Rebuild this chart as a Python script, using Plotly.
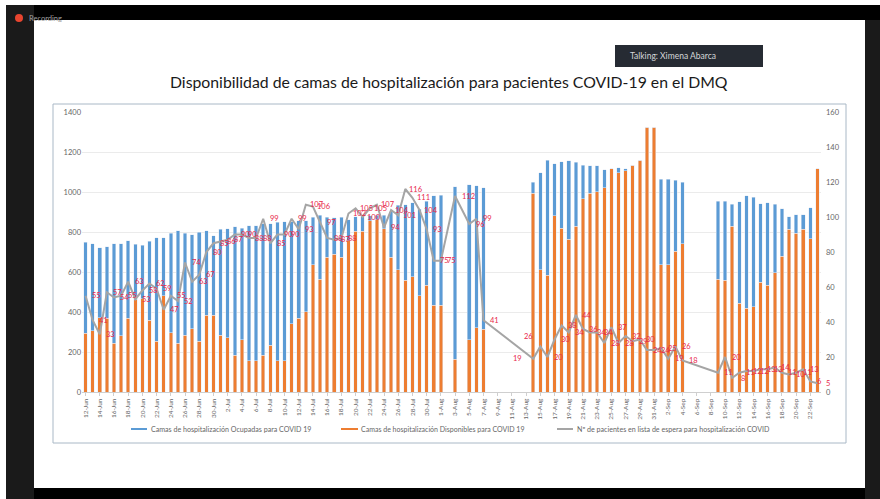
import plotly.graph_objects as go

W, H = 880, 499
L, R, T, B = 82, 821, 112, 392

dates = (
    [f"{d}-Jun" for d in range(12, 31)]
    + [f"{d}-Jul" for d in range(1, 32)]
    + [f"{d}-Aug" for d in range(1, 32)]
    + [f"{d}-Sep" for d in range(1, 24)]
)

totales = [
    748, 741, 721, 726, 741, 741, 756, 738, 734, 754, 771, 771, 793, 806, 793, 786, 799, 806, 781,
    813, 816, 826, 819, 832, 832, 842, 842, 849, 852, 852, 857, 857, 874, 884, 874, 871, 874, 861,
    877, 877, 881, 884, 884, 901, 934, 937, 947, 914, 954, 981, 984,
    None, 1026, None, 1036, 1032, 1022, None, None, None, None, None, None,
    1049, 1096, 1159, 1142, 1152, 1156, 1149, 1134, 1131, 1131, 1111, 1117, 1121, 1116, 1134, 1159,
    1324, 1324,
    1064, 1064, 1059, 1049, None, None, None, None,
    954, 954, 939, 951, 981, 974, 942, 946, 939, 916, 877, 887, 887, 922, 1116,
]
disponibles = [
    295, 306, 372, 370, 245, 281, 368, 461, 466, 358, 255, 481, 296, 245, 285, 316, 255, 383, 385,
    285, 271, 183, 261, 156, 156, 183, 235, 156, 156, 341, 368, 401, 636, 564, 673, 689, 673, 756,
    803, 803, 856, 862, 816, 673, 611, 558, 576, 481, 533, 435, 435,
    None, 165, None, 261, 321, 315, None, None, None, None, None, None,
    994, 611, 584, 881, 819, 764, 829, 966, 994, 1002, 1021, 1117, 1097, 1107, 1134, 1159,
    1324, 1324,
    636, 636, 703, 741, None, None, None, None,
    564, 558, 829, 445, 420, 426, 549, 533, 596, 679, 813, 794, 813, 766, 1116,
]
espera = [
    55, 41, 33, 57, 54, 55, 63, 53, 58, 62, 59, 47, 55, 52, 74, 63, 67, 80, 85,
    86, 87, 90, 90, 88, 88, 99, 85, 90, 90, 99, 93, 107, 106, 97, 88, 87, 88, 102,
    105, 100, 105, 107, 94, 104, 101, 116, 111, 104, 93, 75, 75,
    None, 112, None, 96, 99, 41, None, None, None, None, None, None,
    19, 26, 20, 30, 38, 34, 44, 36, 34, 34, 28, 37, 28, 32, 29, 30,
    24, 24,
    25, 19, 26, 18, None, None, None, None,
    11, 20, 8, 11, 12, 12, 13, 13, 14, 11, 10, 11, 13, 6, 5,
]
ocupadas = [None if t is None else t - d for t, d in zip(totales, disponibles)]

y_ticks_left = [0, 200, 400, 600, 800, 1000, 1200, 1400]
y_ticks_right = [0, 20, 40, 60, 80, 100, 120, 140, 160]

titulo = "Disponibilidad de camas de hospitalización para pacientes COVID-19 en el DMQ"
nombres = [
    "Camas de hospitalización Ocupadas para COVID 19",
    "Camas de hospitalización Disponibles para COVID 19",
    "Nº de pacientes en lista de espera para hospitalización COVID",
]

FONT = "Lato"
GREY = "#666666"
RED = "#e8284a"
BLUE = "#5b9bd5"
ORANGE = "#ed7d31"
LINE = "#a5a5a5"


def px(x):
    return (x - L) / (R - L)


def py(y):
    return (B - y) / (B - T)


def rect(x0, y0, x1, y1, fill, line=None, layer="below"):
    return dict(
        type="rect", xref="paper", yref="paper", layer=layer,
        x0=px(x0), x1=px(x1), y0=py(y0), y1=py(y1),
        fillcolor=fill, line=dict(color=line or fill, width=1 if line else 0),
    )


def label(x, y, text, size, color, anchor="left"):
    return dict(x=px(x), y=py(y), xref="paper", yref="paper", text=text, showarrow=False,
                xanchor=anchor, yanchor="middle", font=dict(family=FONT, size=size, color=color))


fig = go.Figure()
fig.add_bar(x=dates, y=disponibles, name=nombres[1], marker_color=ORANGE)
fig.add_bar(x=dates, y=ocupadas, name=nombres[0], marker_color=BLUE)
fig.add_scatter(
    x=dates, y=espera, name=nombres[2], mode="lines", yaxis="y2", connectgaps=True,
    line=dict(color=LINE, width=2),
)

shift_especial = {"14-Aug": -16, "15-Aug": -12, "3-Aug": 13, "22-Sep": 9}
alza_especial = {"15-Aug": 10}
annotations = []
for d, v in zip(dates, espera):
    if v is None:
        continue
    annotations.append(dict(
        x=d, y=v, xref="x", yref="y2", text=str(v), showarrow=False, yanchor="middle",
        xshift=shift_especial.get(d, 11), yshift=alza_especial.get(d, 0),
        font=dict(family=FONT, size=7.5, color=RED),
    ))

annotations += [
    label(449, 82, titulo, 15.8, "#1a1a1a", "center"),
    label(628, 56, "Talking: Ximena Abarca", 8.5, "#d5d7da"),
    label(27, 18, "Recording", 7.5, "#a0a0a0"),
    label(149, 429, nombres[0], 7.1, GREY),
    label(359, 429, nombres[1], 7.0, GREY),
    label(575, 429, nombres[2], 7.1, GREY),
]

shapes = [
    rect(6, 5, 880, 499, "#1a1a1a"),
    rect(34, 5, 880, 20, "#000000"),
    rect(34, 488, 865, 499, "#000000"),
    rect(34, 20, 865, 488, "#ffffff"),
    rect(53, 104, 846, 443, "#ffffff", "#a9b8c6"),
    rect(131, 428, 147, 430, BLUE),
    rect(341, 428, 358, 430, ORANGE),
    rect(557, 428, 573, 430, LINE),
    rect(615, 45, 763, 67, "#262b33", layer="above"),
    dict(type="circle", xref="paper", yref="paper", layer="above",
         x0=px(15), x1=px(23), y0=py(22), y1=py(14), fillcolor="#e8452f", line=dict(width=0)),
]

fig.update_layout(
    width=W, height=H, autosize=False,
    margin=dict(l=L, r=W - R, t=T, b=H - B),
    paper_bgcolor="#ffffff", plot_bgcolor="rgba(0,0,0,0)",
    barmode="stack", bargap=0.5,
    font=dict(family=FONT, size=8, color=GREY),
    showlegend=False,
    xaxis=dict(
        type="category", categoryorder="array", categoryarray=dates, range=[-0.5, len(dates) - 0.5],
        tickmode="array", tickvals=dates[::2], ticktext=dates[::2], tickangle=-90,
        tickfont=dict(family=FONT, size=6.5, color=GREY), ticks="outside", ticklen=3, tickcolor="#cfcfcf",
        showline=True, linecolor="#cfcfcf", linewidth=1, showgrid=False,
    ),
    yaxis=dict(
        range=[0, 1400], tickvals=y_ticks_left, showgrid=True, gridcolor="#ebebeb", gridwidth=1,
        zeroline=False, tickfont=dict(family=FONT, size=7.5, color=GREY),
    ),
    yaxis2=dict(
        range=[0, 160], tickvals=y_ticks_right, overlaying="y", side="right", showgrid=False,
        zeroline=False, tickfont=dict(family=FONT, size=7.5, color=GREY), ticklabelstandoff=4,
    ),
    shapes=shapes, annotations=annotations,
)

fig.write_html(
    "out.html",
    config={"displayModeBar": False},
    post_script="document.body.style.margin='0';",
)
